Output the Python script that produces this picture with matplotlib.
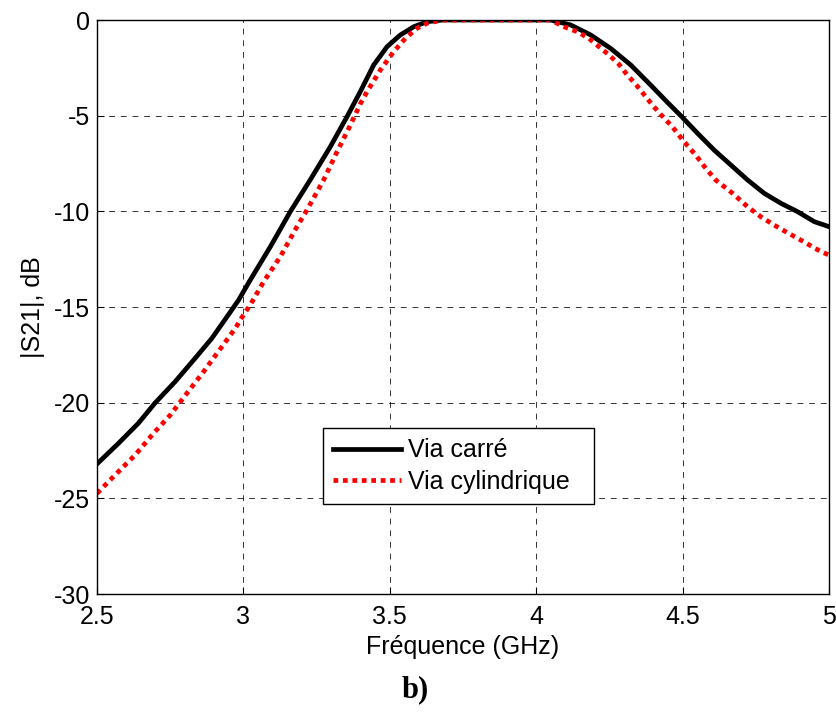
import numpy as np #numpy for arrays
import matplotlib
matplotlib.use("Agg")
import matplotlib.pyplot as plt #matplotlib for the graph

# values (frequency in GHz, |S21| in dB)
freq_carre = [2.500, 2.573, 2.641, 2.698, 2.767, 2.835, 2.892, 2.949, 2.983, 3.023, 3.092, 3.160, 3.228, 3.297,
              3.354, 3.399, 3.445, 3.491, 3.536, 3.582, 3.627, 3.680, 4.000, 4.049, 4.118, 4.186, 4.254, 4.323,
              4.391, 4.448, 4.497, 4.551, 4.608, 4.665, 4.722, 4.779, 4.836, 4.893, 4.950, 5.000]
s21_carre = [-23.20, -22.13, -21.08, -20.02, -18.90, -17.68, -16.64, -15.40, -14.65, -13.60, -11.85, -10.02, -8.36, -6.62,
             -5.05, -3.75, -2.35, -1.39, -0.78, -0.35, -0.09, 0.0, 0.0, 0.0, -0.26, -0.78, -1.48, -2.35,
             -3.40, -4.30, -5.05, -5.92, -6.80, -7.58, -8.36, -9.06, -9.58, -10.02, -10.54, -10.80]

freq_cyl = [2.500, 2.567, 2.630, 2.693, 2.750, 2.807, 2.864, 2.920, 2.972, 3.000, 3.023, 3.069, 3.126, 3.183,
            3.217, 3.274, 3.320, 3.360, 3.400, 3.422, 3.468, 3.513, 3.553, 3.593, 3.627, 3.680, 4.000, 4.049,
            4.095, 4.140, 4.180, 4.214, 4.249, 4.283, 4.311, 4.340, 4.368, 4.397, 4.425, 4.465, 4.505, 4.545,
            4.579, 4.613, 4.671, 4.722, 4.767, 4.813, 4.853, 4.893, 4.933, 4.973, 5.000]
s21_cyl = [-24.74, -23.70, -22.74, -21.60, -20.65, -19.51, -18.38, -17.21, -16.12, -15.42, -14.90, -13.68, -12.37, -10.80,
           -9.93, -8.36, -6.88, -5.66, -4.36, -3.75, -2.61, -1.66, -0.96, -0.43, -0.17, 0.0, 0.0, 0.0,
           -0.35, -0.61, -0.96, -1.39, -1.83, -2.32, -2.87, -3.36, -3.89, -4.44, -4.93, -5.58, -6.36, -7.06,
           -7.75, -8.36, -9.06, -9.76, -10.28, -10.72, -11.07, -11.41, -11.76, -12.11, -12.28]

x_ticks = [2.5, 3, 3.5, 4, 4.5, 5]
x_labels = ["2.5", "3", "3.5", "4", "4.5", "5"]
y_ticks = [-30, -25, -20, -15, -10, -5, 0]

plt.rcParams['font.family'] = ['Liberation Sans', 'DejaVu Sans']
plt.rcParams['axes.unicode_minus'] = False #plain hyphen for negative numbers

fig = plt.figure(figsize=(8.37, 7.2), dpi=100)
ax = fig.add_axes([0.1159, 0.175, 0.8745, 0.7972])

ax.plot(freq_carre, s21_carre, color="black", linewidth=3.4, label="Via carré")#solid black curve
ax.plot(freq_cyl, s21_cyl, color="red", linewidth=3.4, dashes=(1, 1), label="Via cylindrique")#dotted red curve

ax.set_xlim(2.5, 5)
ax.set_ylim(-30, 0)
ax.set_xticks(x_ticks)
ax.set_xticklabels(x_labels)
ax.set_yticks(y_ticks)
ax.tick_params(direction="in", labelsize=18, length=5)
ax.tick_params(axis="x", pad=8)
ax.tick_params(axis="y", pad=5)
ax.grid(True, color="black", linestyle=(0, (6, 6)), linewidth=0.7, alpha=0.8)
for s in ax.spines.values():
    s.set_linewidth(1.0)

ax.set_xlabel("Fréquence (GHz)", fontsize=18, labelpad=4)
ax.set_ylabel("|S21|, dB", fontsize=18, labelpad=6)

leg = ax.legend(loc="lower left", bbox_to_anchor=(0.309, 0.157, 0.370, 0.136), mode="expand",
                borderaxespad=0, fontsize=18, fancybox=False, framealpha=1, edgecolor="black",
                handlelength=2.7, handletextpad=0.3, borderpad=0.4, labelspacing=0.3)
leg.get_frame().set_linewidth(1.0)

fig.text(0.496, 0.042, "b)", fontsize=22, fontweight="bold", family="Liberation Serif", ha="center", va="center")

fig.savefig("out.png", dpi=100)
